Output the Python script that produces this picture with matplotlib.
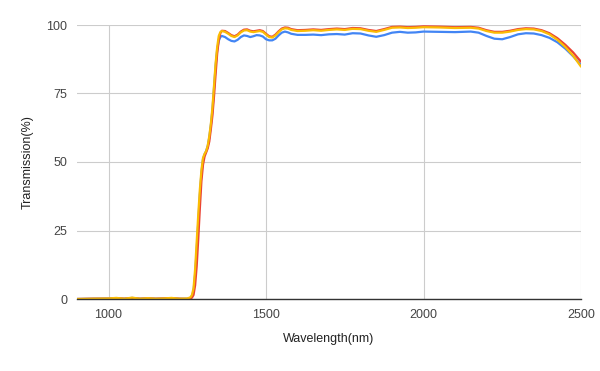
import matplotlib
matplotlib.use("Agg")
from matplotlib import pyplot as plt

wavelength = [900, 950, 1000, 1025, 1050, 1075, 1100, 1125, 1150, 1175, 1200, 1225,
              1250, 1260, 1265, 1270, 1275, 1280, 1285, 1290, 1295, 1300, 1305, 1310,
              1315, 1320, 1325, 1330, 1335, 1340, 1345, 1350, 1355, 1360, 1370, 1380,
              1390, 1400, 1410, 1420, 1430, 1440, 1450, 1460, 1470, 1480, 1490, 1500,
              1510, 1520, 1530, 1540, 1550, 1560, 1570, 1580, 1600, 1625, 1650, 1675,
              1700, 1725, 1750, 1775, 1800, 1825, 1850, 1875, 1900, 1925, 1950, 1975,
              2000, 2050, 2100, 2150, 2175, 2200, 2225, 2250, 2275, 2300, 2325, 2350,
              2375, 2400, 2425, 2450, 2475, 2500]

blue = [0.0, 0.1, 0.2, 0.3, 0.1, 0.4, 0.1, 0.3, 0.1, 0.2, 0.3, 0.1,
        0.1, 0.4, 1.0, 3, 9, 18, 28, 38, 46, 51, 52.8, 54,
        55.8, 59, 63.5, 69, 77, 85, 91, 94.2, 95.6, 96, 95.6, 94.8,
        94.2, 94.0, 94.6, 95.6, 96.2, 96.0, 95.6, 95.9, 96.3, 96.2, 95.8, 94.8,
        94.4, 94.4, 95.0, 96.2, 97.2, 97.6, 97.3, 96.8, 96.4, 96.4, 96.5, 96.3,
        96.6, 96.7, 96.5, 97.0, 96.9, 96.2, 95.7, 96.3, 97.2, 97.5, 97.2, 97.3,
        97.6, 97.5, 97.4, 97.6, 97.2, 96.0, 95.0, 94.8, 95.6, 96.6, 97.0, 96.9,
        96.3, 95.3, 93.7, 91.4, 88.6, 85.4]

red = [0.0, 0.1, 0.1, 0.3, 0.1, 0.3, 0.1, 0.2, 0.1, 0.2, 0.3, 0.1,
       0.0, 0.2, 0.5, 1.5, 5, 12, 22, 33, 43, 49, 52, 53.5,
       55, 57.5, 62, 67, 74, 82, 89.5, 94.5, 97, 97.9, 97.8, 97.1,
       96.3, 95.9, 96.5, 97.6, 98.3, 98.4, 97.9, 97.7, 97.9, 98.1, 97.8, 96.8,
       95.9, 95.7, 96.5, 97.7, 98.7, 99.1, 99.0, 98.5, 98.1, 98.2, 98.4, 98.2,
       98.5, 98.7, 98.5, 98.9, 98.8, 98.2, 97.8, 98.5, 99.3, 99.4, 99.2, 99.3,
       99.5, 99.4, 99.2, 99.3, 99.0, 98.1, 97.5, 97.5, 97.9, 98.5, 98.8, 98.7,
       98.1, 97.0, 95.2, 92.8, 90.0, 86.6]

orange = [0.0, 0.1, 0.2, 0.4, 0.1, 0.5, 0.1, 0.3, 0.1, 0.2, 0.4, 0.1,
          0.2, 0.6, 1.5, 4, 11, 21, 31, 40, 47, 51.5, 53, 54,
          56, 59.5, 64, 70, 78, 86, 92, 96, 97.4, 97.8, 97.5, 96.8,
          96.0, 95.6, 96.2, 97.3, 98.0, 98.1, 97.6, 97.4, 97.6, 97.8, 97.5, 96.5,
          95.6, 95.4, 96.2, 97.4, 98.4, 98.8, 98.7, 98.2, 97.8, 97.9, 98.1, 97.9,
          98.2, 98.4, 98.2, 98.6, 98.5, 97.9, 97.5, 98.2, 99.0, 99.1, 98.9, 99.0,
          99.2, 99.1, 98.9, 99.0, 98.7, 97.8, 97.2, 97.2, 97.6, 98.2, 98.5, 98.4,
          97.8, 96.6, 94.6, 92.0, 88.8, 84.8]

x_ticks = [1000, 1500, 2000, 2500]
y_ticks = [0, 25, 50, 75, 100]

plt.rcParams['font.family'] = ['Liberation Sans', 'DejaVu Sans']

fig = plt.figure(figsize=(6, 3.71), dpi=100)
ax = fig.add_axes([77 / 600, 1 - 299 / 371, (581 - 77) / 600, (299 - 25) / 371])

ax.plot(wavelength, blue, color='#4285F4', lw=1.6, solid_capstyle='round')
ax.plot(wavelength, red, color='#EA4335', lw=1.6, solid_capstyle='round')
ax.plot(wavelength, orange, color='#FBBC04', lw=1.6, solid_capstyle='round')

ax.set_xlim(900, 2500)
ax.set_ylim(0, 100)
ax.set_xticks(x_ticks)
ax.set_yticks(y_ticks)
ax.grid(True, color='#cccccc', lw=0.8)
ax.set_axisbelow(True)
for side in ['top', 'right', 'left']:
    ax.spines[side].set_visible(False)
ax.spines['bottom'].set_color('#333333')
ax.spines['bottom'].set_linewidth(1)
ax.tick_params(length=0, labelsize=9, colors='#444444', pad=7)
ax.tick_params(axis='y', pad=7)

ax.set_xlabel('Wavelength(nm)', fontsize=9, color='#222222', labelpad=9)
ax.set_ylabel('Transmission(%)', fontsize=9, color='#222222', labelpad=9)

fig.savefig('out.png', dpi=100, facecolor='white')
